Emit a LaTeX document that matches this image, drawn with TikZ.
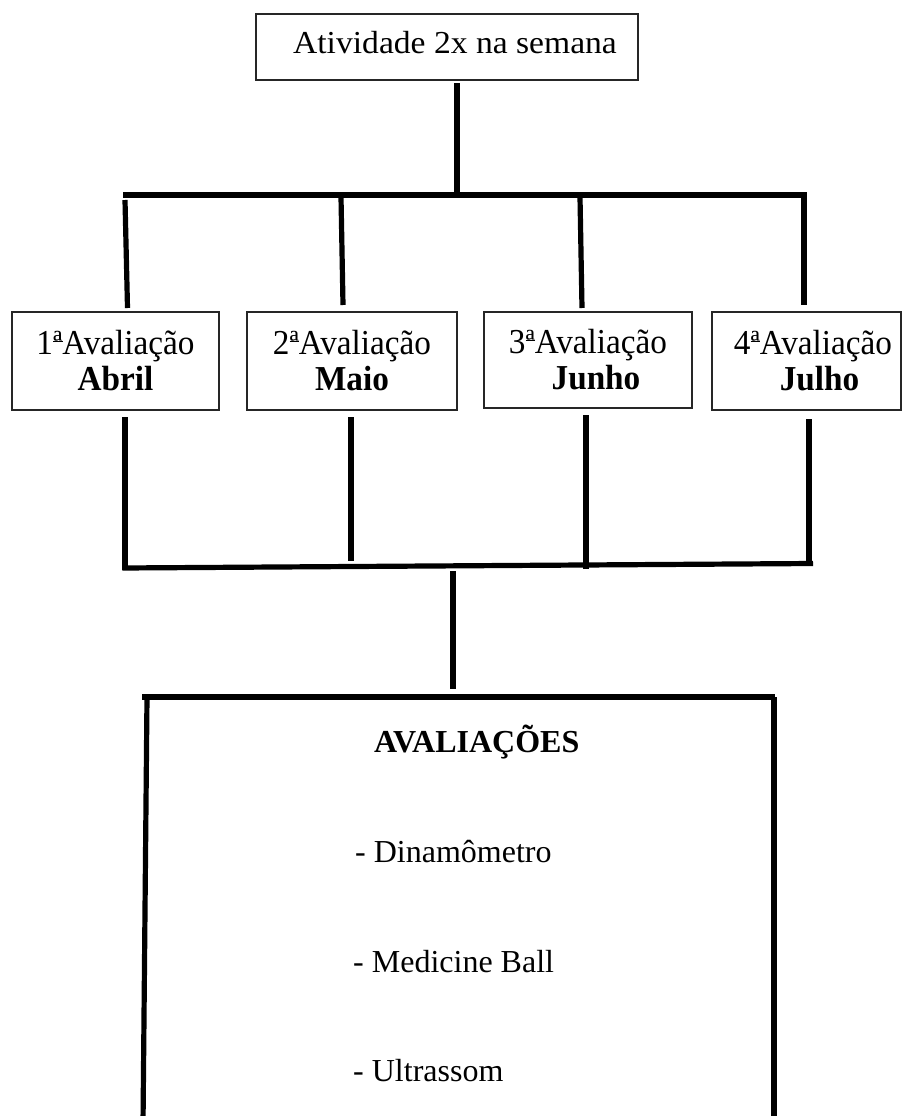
\documentclass[tikz,border=0pt]{standalone}
\usepackage{fontspec}
\setmainfont{Liberation Serif}
\newfontfamily\cambria{Liberation Serif}[FakeStretch=1.05]
\newfontfamily\cambriab{Liberation Serif}[FakeStretch=0.95]
\newcommand\ordfem{\leavevmode\rlap{\rule[0.36em]{0.28em}{0.045em}}ª}
\begin{document}
\begin{tikzpicture}[x=1pt,y=-1pt,
  conn/.style={line width=5.2pt, black},
  topbox/.style={draw=black!85, line width=1.1pt, inner sep=0pt,
    font=\cambria\fontsize{32}{36}\selectfont},
  evbox/.style={draw=black!85, line width=1.1pt, inner sep=0pt, align=center,
    font=\cambriab\fontsize{35}{36}\selectfont},
  itemtext/.style={anchor=base west, inner sep=0pt, font=\fontsize{32}{36}\selectfont}
]
\useasboundingbox (0,0) rectangle (902,1116);

% top box
\node[topbox, minimum width=382pt, minimum height=66pt, text height=22pt, text depth=8pt]
  (top) at (447,47) {\hspace*{16pt}Atividade 2x na semana};

% evaluation boxes
\node[evbox, minimum width=207pt, minimum height=98pt] (e1) at (115.5,361)
  {1\ordfem Avaliação\\\textbf{Abril}};
\node[evbox, minimum width=210pt, minimum height=98pt] (e2) at (352,361)
  {2\ordfem Avaliação\\\textbf{Maio}};
\node[evbox, minimum width=208pt, minimum height=96pt] (e3) at (588,360)
  {3\ordfem Avaliação\\\textbf{\hspace*{16pt}Junho}};
\node[evbox, minimum width=189pt, minimum height=98pt] (e4) at (806.5,361)
  {\hspace*{13pt}4\ordfem Avaliação\\\textbf{\hspace*{26pt}Julho}};

% upper connectors
\coordinate (tj) at (457,83);
\coordinate (tb) at (457,195);
\coordinate (barL) at (123,195);
\coordinate (barR) at (806.6,195);
\coordinate (u1a) at (125,200);   \coordinate (u1b) at (127.5,308);
\coordinate (u2a) at (341,197);   \coordinate (u2b) at (343,305);
\coordinate (u3a) at (580,197);   \coordinate (u3b) at (582,308);
\coordinate (u4a) at (804,192.4); \coordinate (u4b) at (804,305);
\draw[conn] (tj) -- (tb);
\draw[conn] (barL) -- (barR);
\draw[conn] (u1a) -- (u1b);
\draw[conn] (u2a) -- (u2b);
\draw[conn] (u3a) -- (u3b);
\draw[conn] (u4a) -- (u4b);

% lower connectors
\coordinate (l1a) at (125,417);   \coordinate (l1b) at (125,570);
\coordinate (l2a) at (351,417);   \coordinate (l2b) at (351,561);
\coordinate (l3a) at (586,415);   \coordinate (l3b) at (586,569);
\coordinate (l4a) at (809,419);   \coordinate (l4b) at (809,565.5);
\coordinate (lbarL) at (122.4,568);
\coordinate (lbarR) at (813,563.5);
\draw[conn] (l1a) -- (l1b);
\draw[conn] (l2a) -- (l2b);
\draw[conn] (l3a) -- (l3b);
\draw[conn] (l4a) -- (l4b);
\draw[conn] (lbarL) -- (lbarR);
\coordinate (ca) at (453,571);
\coordinate (cb) at (453,689);
\draw[conn] (ca) -- (cb);

% bottom box (open below the page edge)
\coordinate (bTL) at (142,697);
\coordinate (bTR) at (775,697);
\coordinate (bL1) at (147,697);  \coordinate (bL2) at (143,1125);
\coordinate (bR1) at (774,697);  \coordinate (bR2) at (774,1125);
\draw[conn] (bTL) -- (bTR);
\draw[conn] (bL1) -- (bL2);
\draw[conn] (bR1) -- (bR2);

% bottom box texts
\node[itemtext, font=\bfseries\fontsize{32}{36}\selectfont] (avt) at (374,752) {AVALIAÇÕES};
\node[itemtext] (d1) at (355,862) {- Dinamômetro};
\node[itemtext] (d2) at (353,972) {- Medicine Ball};
\node[itemtext] (d3) at (353,1081) {- Ultrassom};
\end{tikzpicture}
\end{document}
